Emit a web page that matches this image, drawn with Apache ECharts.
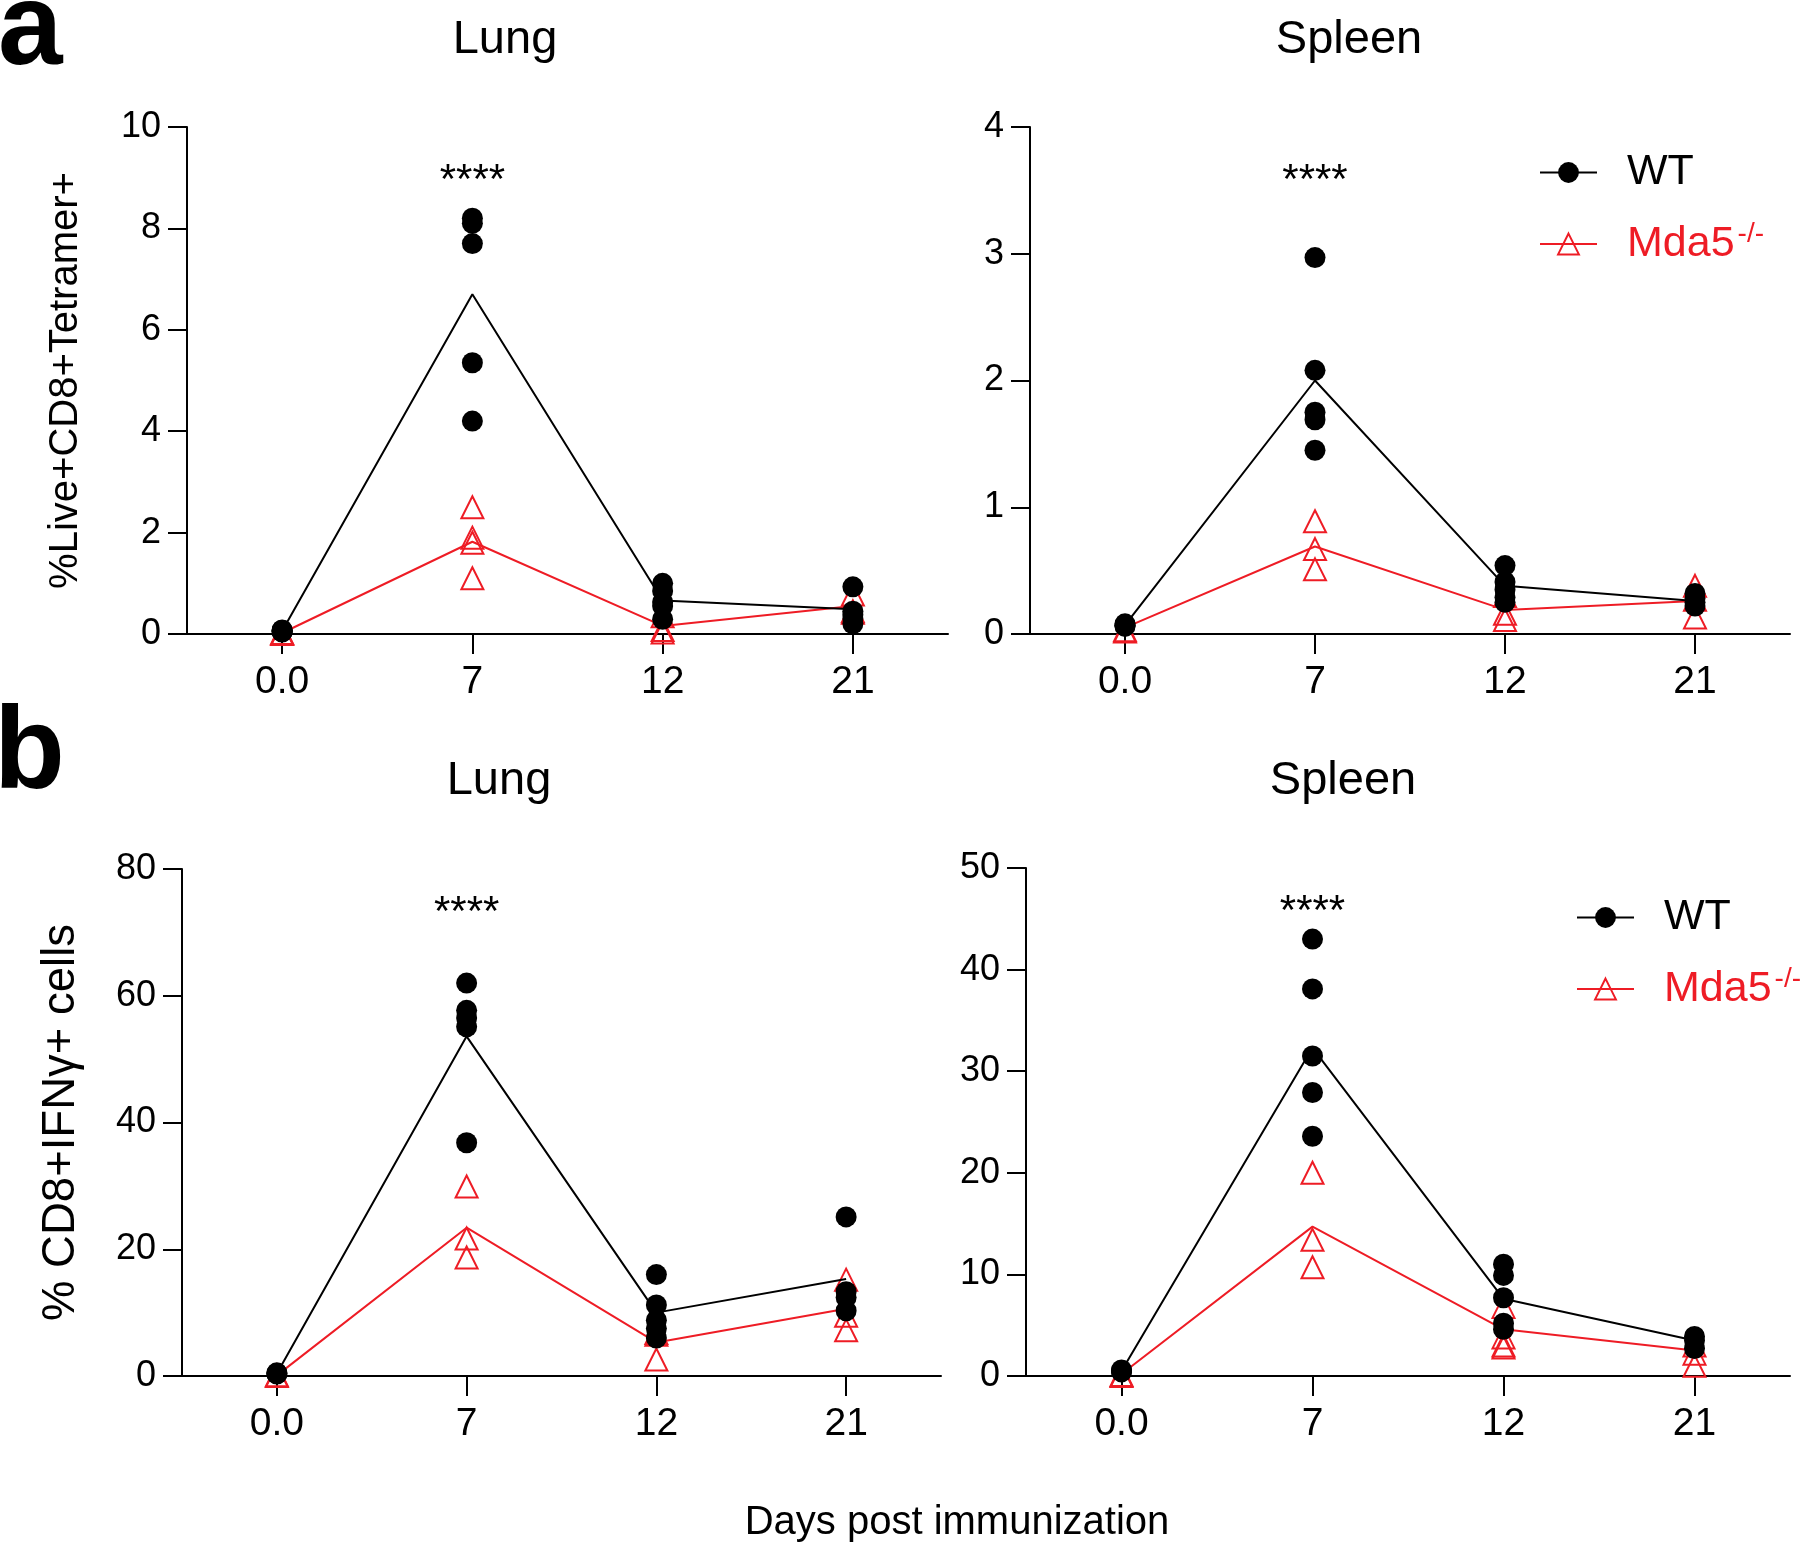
<!DOCTYPE html>
<html><head><meta charset="utf-8">
<script src="https://cdn.jsdelivr.net/npm/echarts@6/dist/echarts.min.js"></script>
<style>html,body{margin:0;padding:0;background:#fff}#c{width:1800px;height:1545px}</style>
</head><body><div id="c"></div>
<script>
// ---------- data ----------
const days = ['0.0', '7', '12', '21'];

// a: Lung  (%Live+CD8+Tetramer+)
const aLungWT      = [[0.05, 0.08, 0.04, 0.06, 0.07], [8.2, 8.1, 7.7, 5.35, 4.2], [1.0, 0.85, 0.63, 0.55, 0.29], [0.93, 0.45, 0.38, 0.3, 0.2]];
const aLungWTMean  = [0.06, 6.7, 0.66, 0.49];
const aLungMda     = [[0.0, 0.02, 0.01], [2.5, 1.9, 1.8, 1.1], [0.08, 0.03, 0.35], [0.78, 0.45, 0.42]];
const aLungMdaMean = [0.02, 1.82, 0.16, 0.55];
const aLungY       = [0, 10, 2];

// a: Spleen
const aSpleenWT      = [[0.07, 0.06, 0.08, 0.07], [2.97, 2.08, 1.75, 1.69, 1.45], [0.54, 0.41, 0.35, 0.29, 0.25], [0.32, 0.28, 0.25, 0.22]];
const aSpleenWTMean  = [0.07, 2.0, 0.38, 0.26];
const aSpleenMda     = [[0.02, 0.03], [0.89, 0.67, 0.51], [0.16, 0.11, 0.3], [0.38, 0.27, 0.13]];
const aSpleenMdaMean = [0.05, 0.69, 0.19, 0.26];
const aSpleenY       = [0, 4, 1];

// b: Lung  (% CD8+IFNγ+ cells)
const bLungWT      = [[0.4, 0.5, 0.3], [62.0, 57.7, 56.5, 55.1, 36.8], [16.0, 11.2, 8.8, 7.5, 6.0], [25.1, 13.3, 12.4, 10.3]];
const bLungWTMean  = [0.4, 53.6, 10.0, 15.3];
const bLungMda     = [[0.0, 0.1], [29.9, 21.7, 18.7], [2.6, 6.5, 6.8], [15.2, 9.5, 7.2]];
const bLungMdaMean = [0.1, 23.4, 5.3, 10.6];
const bLungY       = [0, 80, 20];

// b: Spleen
const bSpleenWT      = [[0.5, 0.4, 0.6], [43.0, 38.1, 31.5, 27.9, 23.6], [11.0, 9.9, 7.7, 5.2, 4.6], [3.9, 3.5, 2.7]];
const bSpleenWTMean  = [0.5, 32.3, 7.6, 3.5];
const bSpleenMda     = [[0.1, 0.0], [20.0, 13.4, 10.7], [6.8, 3.8, 3.0, 2.8], [2.2, 1.0, 3.0]];
const bSpleenMdaMean = [0.2, 14.7, 4.6, 2.5];
const bSpleenY       = [0, 50, 10];

const seriesNames = ['WT', 'Mda5'];
const sigText = '****';
const aYName = '%Live+CD8+Tetramer+';
const bYName = '% CD8+IFNγ+ cells';
const xName = 'Days post immunization';

// ---------- layout / style ----------
const FONT = '"Liberation Sans", Arial, Helvetica, sans-serif';
const RED = '#ee1c25';
const BLACK = '#000000';

const panels = [
  {wt: aLungWT, wtMean: aLungWTMean, mda: aLungMda, mdaMean: aLungMdaMean, y: aLungY,
   grid: {left: 187, top: 127, width: 761, height: 507}, yName: aYName, nameGap: 101, nameSize: 40, star: 8.93},
  {wt: aSpleenWT, wtMean: aSpleenWTMean, mda: aSpleenMda, mdaMean: aSpleenMdaMean, y: aSpleenY,
   grid: {left: 1030, top: 127, width: 760, height: 507}, yName: '', nameGap: 0, nameSize: 40, star: 3.574},
  {wt: bLungWT, wtMean: bLungWTMean, mda: bLungMda, mdaMean: bLungMdaMean, y: bLungY,
   grid: {left: 182, top: 869, width: 759, height: 507}, yName: bYName, nameGap: 98, nameSize: 45.5, star: 73.06},
  {wt: bSpleenWT, wtMean: bSpleenWTMean, mda: bSpleenMda, mdaMean: bSpleenMdaMean, y: bSpleenY,
   grid: {left: 1026, top: 868, width: 764, height: 508}, yName: '', nameGap: 0, nameSize: 45.5, star: 45.67}
];

const toPts = arr => arr.flatMap((vals, d) => vals.map(v => [days[d], v]));

const grids = [], xAxes = [], yAxes = [], series = [];
panels.forEach((p, i) => {
  grids.push(Object.assign({outerBoundsMode: 'none', containLabel: false}, p.grid));
  xAxes.push({
    type: 'category', gridIndex: i, data: days, boundaryGap: true,
    axisLine: {show: true, lineStyle: {color: BLACK, width: 2}},
    axisTick: {show: true, alignWithLabel: true, length: 20, lineStyle: {color: BLACK, width: 2}},
    axisLabel: {fontSize: 39, margin: 29, color: BLACK, fontFamily: FONT},
    splitLine: {show: false}
  });
  yAxes.push({
    type: 'value', gridIndex: i, min: p.y[0], max: p.y[1], interval: p.y[2],
    axisLine: {show: true, lineStyle: {color: BLACK, width: 2}},
    axisTick: {show: true, length: 19, lineStyle: {color: BLACK, width: 2}},
    axisLabel: {fontSize: 36, margin: 26, color: BLACK, fontFamily: FONT},
    splitLine: {show: false},
    name: p.yName, nameLocation: 'middle', nameGap: p.nameGap, nameRotate: 90,
    nameTextStyle: {fontSize: p.nameSize, color: BLACK, fontFamily: FONT}
  });
  // Mda5 mean line
  series.push({
    type: 'line', name: seriesNames[1], xAxisIndex: i, yAxisIndex: i, data: p.mdaMean,
    symbol: 'triangle', symbolSize: 22, showSymbol: false,
    lineStyle: {color: RED, width: 2},
    itemStyle: {color: 'rgba(255,255,255,0)', borderColor: RED, borderWidth: 2, opacity: 1},
    z: 2, silent: true
  });
  // WT mean line (+ significance mark)
  series.push({
    type: 'line', name: seriesNames[0], xAxisIndex: i, yAxisIndex: i, data: p.wtMean,
    symbol: 'circle', symbolSize: 21, showSymbol: false,
    lineStyle: {color: BLACK, width: 2},
    itemStyle: {color: BLACK, opacity: 1},
    z: 4, silent: true,
    markPoint: {
      symbol: 'circle', symbolSize: 1, itemStyle: {color: 'rgba(0,0,0,0)'}, silent: true,
      data: [{coord: [days[1], p.star]}],
      label: {show: true, position: 'inside', formatter: sigText, fontSize: 42, color: BLACK, fontFamily: FONT}
    }
  });
  // Mda5 points
  series.push({
    type: 'scatter', name: seriesNames[1], xAxisIndex: i, yAxisIndex: i, data: toPts(p.mda),
    symbol: 'triangle', symbolSize: 22,
    itemStyle: {color: 'rgba(255,255,255,0)', borderColor: RED, borderWidth: 2, opacity: 1},
    z: 3, silent: true
  });
  // WT points
  series.push({
    type: 'scatter', name: seriesNames[0], xAxisIndex: i, yAxisIndex: i, data: toPts(p.wt),
    symbol: 'circle', symbolSize: 21,
    itemStyle: {color: BLACK, opacity: 1},
    z: 5, silent: true
  });
});

const legendText = {
  padding: [0, 0, 0, 25],
  rich: {
    w: {fontSize: 43, color: BLACK, lineHeight: 48, fontFamily: FONT},
    m: {fontSize: 43, color: RED, lineHeight: 48, fontFamily: FONT},
    s: {fontSize: 28, color: RED, lineHeight: 32, verticalAlign: 'top', fontFamily: FONT, padding: [0, 0, 0, 3]}
  }
};
const legendFmt = n => n === 'WT' ? '{w|WT}' : '{m|Mda5}{s|-/-}';
const mkLegend = (left, top) => ({
  show: true, left, top, orient: 'vertical', padding: 0,
  itemWidth: 57, itemHeight: 26, itemGap: 26, selectedMode: false,
  data: seriesNames, formatter: legendFmt, textStyle: legendText
});

const txt = (text, x, y, size, align, weight) => ({
  type: 'text', x, y, silent: true,
  style: {text, x: 0, y: 0, font: (weight || 'normal') + ' ' + size + 'px ' + FONT, fill: BLACK,
          textAlign: align, align: align, textVerticalAlign: 'middle', verticalAlign: 'middle'}
});

const chart = echarts.init(document.getElementById('c'), null, {renderer: 'canvas'});
chart.setOption({
  animation: false,
  backgroundColor: '#ffffff',
  textStyle: {fontFamily: FONT},
  grid: grids, xAxis: xAxes, yAxis: yAxes, series,
  legend: [mkLegend(1539, 151), mkLegend(1576, 896)],
  graphic: [
    txt('a', -2, 32, 116, 'left', 'bold'),
    txt('b', -6, 756, 116, 'left', 'bold'),
    txt('Lung', 505, 40, 47, 'center'),
    txt('Spleen', 1349, 40, 47, 'center'),
    txt('Lung', 499, 781, 47, 'center'),
    txt('Spleen', 1343, 781, 47, 'center'),
    txt(xName, 957, 1523, 40, 'center')
  ]
});
</script></body></html>
